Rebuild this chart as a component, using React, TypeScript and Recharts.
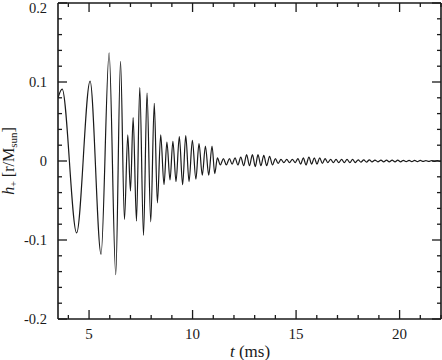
import { LineChart, Line, XAxis, YAxis } from 'recharts';

// extrema of h+ (t in ms)
const tMs = [
  3.5, 3.7, 4.4, 5.05, 5.58, 5.97, 6.29, 6.52, 6.71, 6.87,
  7.0, 7.13, 7.29, 7.45, 7.63, 7.8, 7.98, 8.15, 8.3, 8.46,
  8.62, 8.76, 8.91, 9.05, 9.2, 9.36, 9.52, 9.67, 9.83, 9.99,
  10.16, 10.31, 10.47, 10.62, 10.78, 10.94, 11.07, 11.2, 11.34, 11.49,
  11.63, 11.78, 11.91, 12.05, 12.19, 12.33, 12.47, 12.61, 12.75, 12.89,
  13.03, 13.16, 13.3, 13.44, 13.58, 13.72, 13.86, 14.0, 14.13, 14.27,
  14.41, 14.55, 14.68, 14.82, 14.96, 15.09, 15.22, 15.35, 15.48, 15.62,
  15.75, 15.88, 16.01, 16.14, 16.27, 16.4, 16.53, 16.67, 16.8, 16.93,
  17.06, 17.2, 17.33, 17.46, 17.6, 17.73, 17.86, 18.0, 18.13, 18.27,
  18.4, 18.54, 18.67, 18.81, 18.95, 19.1, 19.23, 19.37, 19.5, 19.64,
  19.78, 19.91, 20.05, 20.18, 20.32, 20.46, 20.59, 20.73, 20.86, 21.0,
  21.14, 21.27, 21.41, 21.55, 21.68, 21.82, 21.95, 22.0,
];

const hPlus = [
  0.08, 0.091, -0.091, 0.101, -0.118, 0.137, -0.144, 0.126, -0.074, 0.033,
  -0.038, 0.055, -0.076, 0.093, -0.094, 0.086, -0.077, 0.073, -0.053, 0.033,
  -0.03, 0.024, -0.024, 0.025, -0.026, 0.031, -0.03, 0.032, -0.026, 0.026,
  -0.023, 0.022, -0.018, 0.019, -0.018, 0.019, -0.016, 0.004, -0.005, 0.003,
  -0.005, 0.003, -0.004, 0.004, -0.005, 0.005, -0.006, 0.008, -0.006, 0.008,
  -0.007, 0.008, -0.006, 0.007, -0.006, 0.006, -0.005, 0.003, -0.003, 0.002,
  -0.002, 0.002, -0.002, 0.002, -0.002, 0.003, -0.004, 0.004, -0.005, 0.005,
  -0.004, 0.004, -0.004, 0.004, -0.003, 0.003, -0.002, 0.002, -0.002, 0.002,
  -0.002, 0.002, -0.002, 0.002, -0.002, 0.002, -0.002, 0.0015, -0.0015, 0.0015,
  -0.0015, 0.0015, -0.0012, 0.0012, -0.001, 0.001, -0.001, 0.001, -0.001, 0.001,
  -0.001, 0.001, -0.001, 0.0008, -0.0008, 0.0008, -0.0008, 0.0008, -0.0008, 0.0008,
  -0.0006, 0.0006, -0.0006, 0.0006, -0.0006, 0.0006, -0.0005, 0,
];

const xTicks = [4, 5, 6, 7, 8, 9, 10, 11, 12, 13, 14, 15, 16, 17, 18, 19, 20, 21, 22];
const xMajor = [5, 10, 15, 20];
const yTicks = [
  -0.2, -0.18, -0.16, -0.14, -0.12, -0.1, -0.08, -0.06, -0.04, -0.02, 0,
  0.02, 0.04, 0.06, 0.08, 0.1, 0.12, 0.14, 0.16, 0.18, 0.2,
];
const yMajor = [-0.2, -0.1, 0, 0.1, 0.2];
const yMajorLabels = ['-0.2', '-0.1', '0', '0.1', '0.2'];

const data = tMs.map((t, i) => ({ t, h: hPlus[i] }));

const FONT = '"Liberation Serif", "DejaVu Serif", serif';
const INK = '#1a1a1a';
const MAJOR = 9;
const MINOR = 4;

const xIsMajor = (v: number) => xMajor.includes(v);
const yMajorIdx = (v: number) => yMajor.findIndex((m) => Math.abs(m - v) < 1e-6);

function BottomTick({ x, y, payload }: any) {
  const major = xIsMajor(payload.value);
  return (
    <g>
      <line x1={x} x2={x} y1={y} y2={y - (major ? MAJOR : MINOR)} stroke={INK} strokeWidth={1.3} />
      {major && (
        <text x={x} y={y + 20} textAnchor="middle" fontSize={15} fontFamily={FONT} fill={INK}>
          {payload.value}
        </text>
      )}
    </g>
  );
}

function TopTick({ x, y, payload }: any) {
  const major = xIsMajor(payload.value);
  return <line x1={x} x2={x} y1={y} y2={y + (major ? MAJOR : MINOR)} stroke={INK} strokeWidth={1.3} />;
}

function LeftTick({ x, y, payload }: any) {
  const idx = yMajorIdx(payload.value);
  return (
    <g>
      <line x1={x} x2={x + (idx >= 0 ? MAJOR : MINOR)} y1={y} y2={y} stroke={INK} strokeWidth={1.3} />
      {idx >= 0 && (
        // top label nudged down so it stays inside the picture
        <text x={x - 11} y={Math.max(y + 4.5, 13)} textAnchor="end" fontSize={14.5} fontFamily={FONT} fill={INK}>
          {yMajorLabels[idx]}
        </text>
      )}
    </g>
  );
}

function RightTick({ x, y, payload }: any) {
  const idx = yMajorIdx(payload.value);
  return <line x1={x} x2={x - (idx >= 0 ? MAJOR : MINOR)} y1={y} y2={y} stroke={INK} strokeWidth={1.3} />;
}

function HLabel() {
  return (
    <text x={14} y={161} transform="rotate(-90 14 161)" textAnchor="middle" fontFamily={FONT} fontSize={16} fill={INK}>
      <tspan fontStyle="italic">h</tspan>
      <tspan fontSize={10} dy={3}>+</tspan>
      <tspan dy={-3}>{' [r/M'}</tspan>
      <tspan fontSize={11} dy={3}>sun</tspan>
      <tspan dy={-3}>]</tspan>
    </text>
  );
}

function TLabel() {
  return (
    <text x={250} y={357} textAnchor="middle" fontFamily={FONT} fontSize={17} fill={INK}>
      <tspan fontStyle="italic">t</tspan>
      {' (ms)'}
    </text>
  );
}

const axisLine = { stroke: INK, strokeWidth: 1.6 };

export default function App() {
  return (
    <div style={{ position: 'absolute', left: 0, top: 0, width: 442, height: 360, background: '#fff' }}>
      <LineChart width={442} height={360} data={data} margin={{ top: 2, right: 0, bottom: 0, left: 0 }}>
        <XAxis
          dataKey="t"
          type="number"
          domain={[3.5, 22]}
          allowDataOverflow
          ticks={xTicks}
          interval={0}
          tick={<BottomTick />}
          tickLine={false}
          tickSize={0}
          tickMargin={0}
          axisLine={axisLine}
          height={41}
          label={<TLabel />}
        />
        <XAxis
          xAxisId="top"
          dataKey="t"
          orientation="top"
          type="number"
          domain={[3.5, 22]}
          allowDataOverflow
          ticks={xTicks}
          interval={0}
          tick={<TopTick />}
          tickLine={false}
          tickSize={0}
          tickMargin={0}
          axisLine={axisLine}
          height={1}
        />
        <YAxis
          type="number"
          domain={[-0.2, 0.2]}
          allowDataOverflow
          ticks={yTicks}
          interval={0}
          tick={<LeftTick />}
          tickLine={false}
          tickSize={0}
          tickMargin={0}
          axisLine={axisLine}
          width={58}
          label={<HLabel />}
        />
        <YAxis
          yAxisId="right"
          orientation="right"
          type="number"
          domain={[-0.2, 0.2]}
          allowDataOverflow
          ticks={yTicks}
          interval={0}
          tick={<RightTick />}
          tickLine={false}
          tickSize={0}
          tickMargin={0}
          axisLine={axisLine}
          width={1}
        />
        {/* invisible twin so the top/right frame axes have a series bound to them */}
        <Line
          xAxisId="top"
          yAxisId="right"
          type="monotone"
          dataKey="h"
          stroke="none"
          strokeOpacity={0}
          dot={false}
          activeDot={false}
          isAnimationActive={false}
        />
        <Line
          type="monotone"
          dataKey="h"
          stroke={INK}
          strokeWidth={1.2}
          dot={false}
          isAnimationActive={false}
        />
      </LineChart>
    </div>
  );
}
